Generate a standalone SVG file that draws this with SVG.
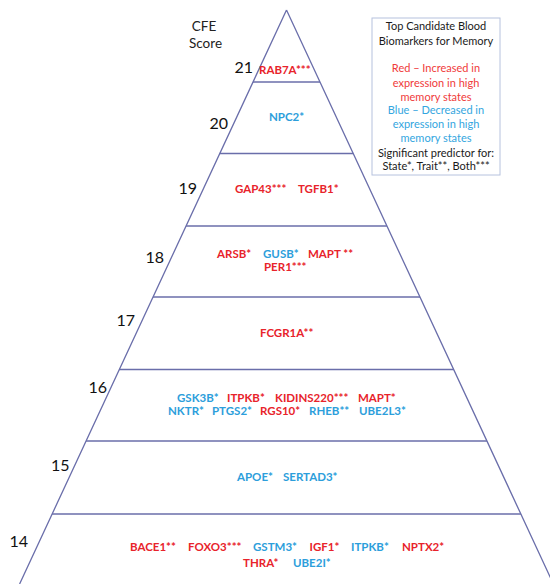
<svg xmlns="http://www.w3.org/2000/svg" width="550" height="584" viewBox="0 0 550 584">
<style>
.edge{stroke:#6a6eaa;stroke-width:1.3;fill:none}
.num{font-family:Lato,"Liberation Sans",sans-serif;font-size:16px;fill:#111;text-anchor:end}
.hdr{font-family:Lato,"Liberation Sans",sans-serif;font-size:13.5px;fill:#222;text-anchor:middle}
.g{font-family:Lato,"Liberation Sans",sans-serif;font-size:11.5px;font-weight:bold}
.r{fill:#e8232b}
.b{fill:#2c9edb}
.leg{font-family:Lato,"Liberation Sans",sans-serif;font-size:11px;text-anchor:middle;fill:#1a1a1a}
.lr{fill:#f03a3a}
.lb{fill:#33a6e0}
</style>
<rect width="550" height="584" fill="#fff"/>
<g id="connectors">
<path class="edge" d="M286.5,10 L19.6,584 M286.5,10 L553.4,584"/>
<line class="edge" x1="253" y1="82" x2="320" y2="82"/>
<line class="edge" x1="219.8" y1="153.5" x2="353.2" y2="153.5"/>
<line class="edge" x1="186.1" y1="226" x2="386.9" y2="226"/>
<line class="edge" x1="153" y1="297" x2="420" y2="297"/>
<line class="edge" x1="119.3" y1="369.5" x2="453.7" y2="369.5"/>
<line class="edge" x1="86.1" y1="441" x2="486.9" y2="441"/>
<line class="edge" x1="52.1" y1="514" x2="520.9" y2="514"/>
</g>
<g id="header">
<text class="hdr" x="204" y="31">CFE</text>
<text class="hdr" x="205.5" y="48">Score</text>
</g>
<g id="tier21">
<text class="num" x="253" y="73">21</text>
<text class="g r" x="259" y="74">RAB7A***</text>
</g>
<g id="tier20">
<text class="num" x="228" y="129">20</text>
<text class="g b" x="269" y="121">NPC2*</text>
</g>
<g id="tier19">
<text class="num" x="197" y="194">19</text>
<text class="g r" x="235" y="193">GAP43***</text>
<text class="g r" x="298" y="193">TGFB1*</text>
</g>
<g id="tier18">
<text class="num" x="164" y="263">18</text>
<text class="g r" x="217" y="258">ARSB*</text>
<text class="g b" x="263" y="258">GUSB*</text>
<text class="g r" x="308" y="258">MAPT **</text>
<text class="g r" x="264" y="271">PER1***</text>
</g>
<g id="tier17">
<text class="num" x="135" y="326">17</text>
<text class="g r" x="260" y="337">FCGR1A**</text>
</g>
<g id="tier16">
<text class="num" x="107" y="393">16</text>
<text class="g b" x="177" y="402">GSK3B*</text>
<text class="g r" x="227" y="402">ITPKB*</text>
<text class="g r" x="275" y="402">KIDINS220***</text>
<text class="g r" x="358" y="402">MAPT*</text>
<text class="g b" x="168" y="415">NKTR*</text>
<text class="g b" x="212" y="415">PTGS2*</text>
<text class="g r" x="260" y="415">RGS10*</text>
<text class="g b" x="309" y="415">RHEB**</text>
<text class="g b" x="359" y="415">UBE2L3*</text>
</g>
<g id="tier15">
<text class="num" x="69.5" y="471">15</text>
<text class="g b" x="237" y="481">APOE*</text>
<text class="g b" x="283" y="481">SERTAD3*</text>
</g>
<g id="tier14">
<text class="num" x="28" y="547">14</text>
<text class="g r" x="130" y="551">BACE1**</text>
<text class="g r" x="188" y="551">FOXO3***</text>
<text class="g b" x="253" y="551">GSTM3*</text>
<text class="g r" x="309.5" y="551">IGF1*</text>
<text class="g b" x="351" y="551">ITPKB*</text>
<text class="g r" x="402" y="551">NPTX2*</text>
<text class="g r" x="243" y="567">THRA*</text>
<text class="g b" x="293" y="567">UBE2I*</text>
</g>
<g id="legend">
<rect x="372" y="18" width="128" height="157" fill="#fff" stroke="#b6c2de" stroke-width="1"/>
<text class="leg" x="436" y="30">Top Candidate Blood</text>
<text class="leg" x="436" y="44.5">Biomarkers for Memory</text>
<text class="leg lr" x="436" y="72">Red – Increased in</text>
<text class="leg lr" x="436" y="86.5">expression in high</text>
<text class="leg lr" x="436" y="100.5">memory states</text>
<text class="leg lb" x="436" y="114">Blue – Decreased in</text>
<text class="leg lb" x="436" y="128">expression in high</text>
<text class="leg lb" x="436" y="142">memory states</text>
<text class="leg" x="436" y="157">Significant predictor for:</text>
<text class="leg" x="436" y="170">State*, Trait**, Both***</text>
</g>
</svg>
